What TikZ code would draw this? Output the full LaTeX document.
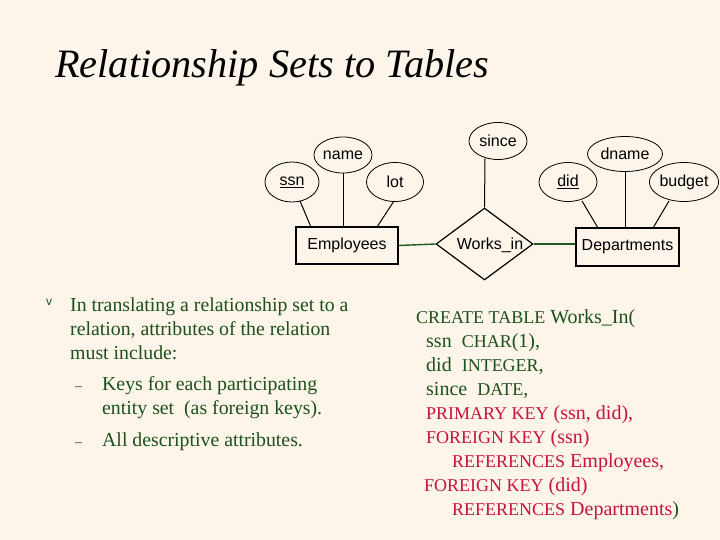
\documentclass[tikz,border=0pt]{standalone}
\usepackage{fontspec}
\setmainfont{Liberation Serif}
\newfontfamily\arialf{Liberation Sans}
\usetikzlibrary{shapes.geometric}
\definecolor{bgc}{RGB}{253,245,233}
\definecolor{txtgreen}{RGB}{28,80,28}
\definecolor{txtred}{RGB}{200,18,60}
\definecolor{lngreen}{RGB}{30,90,30}
\newcommand{\capw}[1]{{\fontsize{18}{20}\selectfont #1}}
\begin{document}
\begin{tikzpicture}[x=1pt,y=-1pt,
  attr/.style={ellipse,draw,line width=0.8pt,inner sep=0pt,font=\arialf\fontsize{16}{18}\selectfont},
  entity/.style={rectangle,draw,line width=1.2pt,inner sep=0pt,font=\arialf\fontsize{16}{18}\selectfont},
  rel/.style={diamond,draw,line width=1.2pt,inner sep=0pt},
  lbl/.style={inner sep=0pt,font=\arialf\fontsize{16}{18}\selectfont},
  conn/.style={line width=1pt},
  gconn/.style={line width=1.4pt,lngreen},
  body/.style={anchor=base west,inner sep=0pt,txtgreen,font=\fontsize{19.8}{22}\selectfont},
  dashmark/.style={anchor=base west,inner sep=0pt,txtgreen,font=\fontsize{14}{14}\selectfont},
  sqlg/.style={anchor=base west,inner sep=0pt,txtgreen,font=\fontsize{20}{22}\selectfont},
  sqlr/.style={anchor=base west,inner sep=0pt,txtred,font=\fontsize{20}{22}\selectfont}]
\fill[bgc] (0,0) rectangle (720,540);
\useasboundingbox (0,0) rectangle (720,540);
% title
\node[anchor=base west,inner sep=0pt,font=\itshape\fontsize{40.3}{44}\selectfont] (title) at (55,78) {Relationship Sets to Tables};
% ER diagram
\node[attr,minimum width=54,minimum height=40] (ssn) at (292,182) {\underline{ssn}};
\node[attr,minimum width=58,minimum height=36] (name) at (343,155) {name};
\node[attr,minimum width=57,minimum height=39] (lot) at (395,182) {lot};
\node[attr,minimum width=58,minimum height=37] (since) at (498,141) {since};
\node[attr,minimum width=75,minimum height=35] (dname) at (625,154) {dname};
\node[attr,minimum width=58,minimum height=39] (did) at (568,182) {\underline{did}};
\node[attr,minimum width=62,minimum height=39] (budget) at (684,182) {budget};
\node[entity,minimum width=102,minimum height=37] (emp) at (347,245.5) {Employees};
\node[rel,minimum width=97,minimum height=72] (works) at (484.5,244) {};
\node[lbl] (workslbl) at (490,245.5) {Works\_in};
\node[entity,minimum width=103,minimum height=38] (dept) at (627.5,247) {Departments};
\coordinate (sinceb) at (485,158.5);
\draw[conn] (300,201) -- (311,227);
\draw[conn] (name.south) -- (name.south |- emp.north);
\draw[conn] (394,201) -- (377,227);
\draw[conn] (sinceb) -- (works.north);
\draw[conn] (582,201) -- (598,228);
\draw[conn] (dname.south) -- (dname.south |- dept.north);
\draw[conn] (669,201) -- (653,228);
\draw[gconn] (emp.east) -- (works.west);
\draw[gconn] (works.east) -- (works.east -| dept.west);
% bullet text
\node[anchor=center,inner sep=0pt,txtgreen,font=\arialf\fontsize{12}{12}\selectfont] (bul) at (49,302) {v};
\node[body] (b1) at (70,311) {In translating a relationship set to a};
\node[body] (b2) at (70,335) {relation, attributes of the relation};
\node[body] (b3) at (70,359) {must include:};
\node[dashmark] (d1) at (75,390) {--};
\node[body] (s1a) at (102,390) {Keys for each participating};
\node[body] (s1b) at (102,414) {entity set\ \ (as foreign keys).};
\node[dashmark] (d2) at (75,446) {--};
\node[body] (s2) at (102,446) {All descriptive attributes.};
% SQL
\node[sqlg] (q1) at (416,323) {\capw{CREATE TABLE} Works\_In(};
\node[sqlg] (q2) at (426,347) {ssn\ \ \capw{CHAR}(1),};
\node[sqlg] (q3) at (426,371) {did\ \ \capw{INTEGER},};
\node[sqlg] (q4) at (426,395) {since\ \ \capw{DATE},};
\node[sqlr] (q5) at (426,419) {\capw{PRIMARY KEY} (ssn, did),};
\node[sqlr] (q6) at (426,443) {\capw{FOREIGN KEY} (ssn)};
\node[sqlr] (q7) at (452,467) {\capw{REFERENCES} Employees,};
\node[sqlr] (q8) at (424,491) {\capw{FOREIGN KEY} (did)};
\node[sqlr] (q9) at (452,515) {\capw{REFERENCES} Departments\textcolor{txtgreen}{)}};
\end{tikzpicture}
\end{document}
